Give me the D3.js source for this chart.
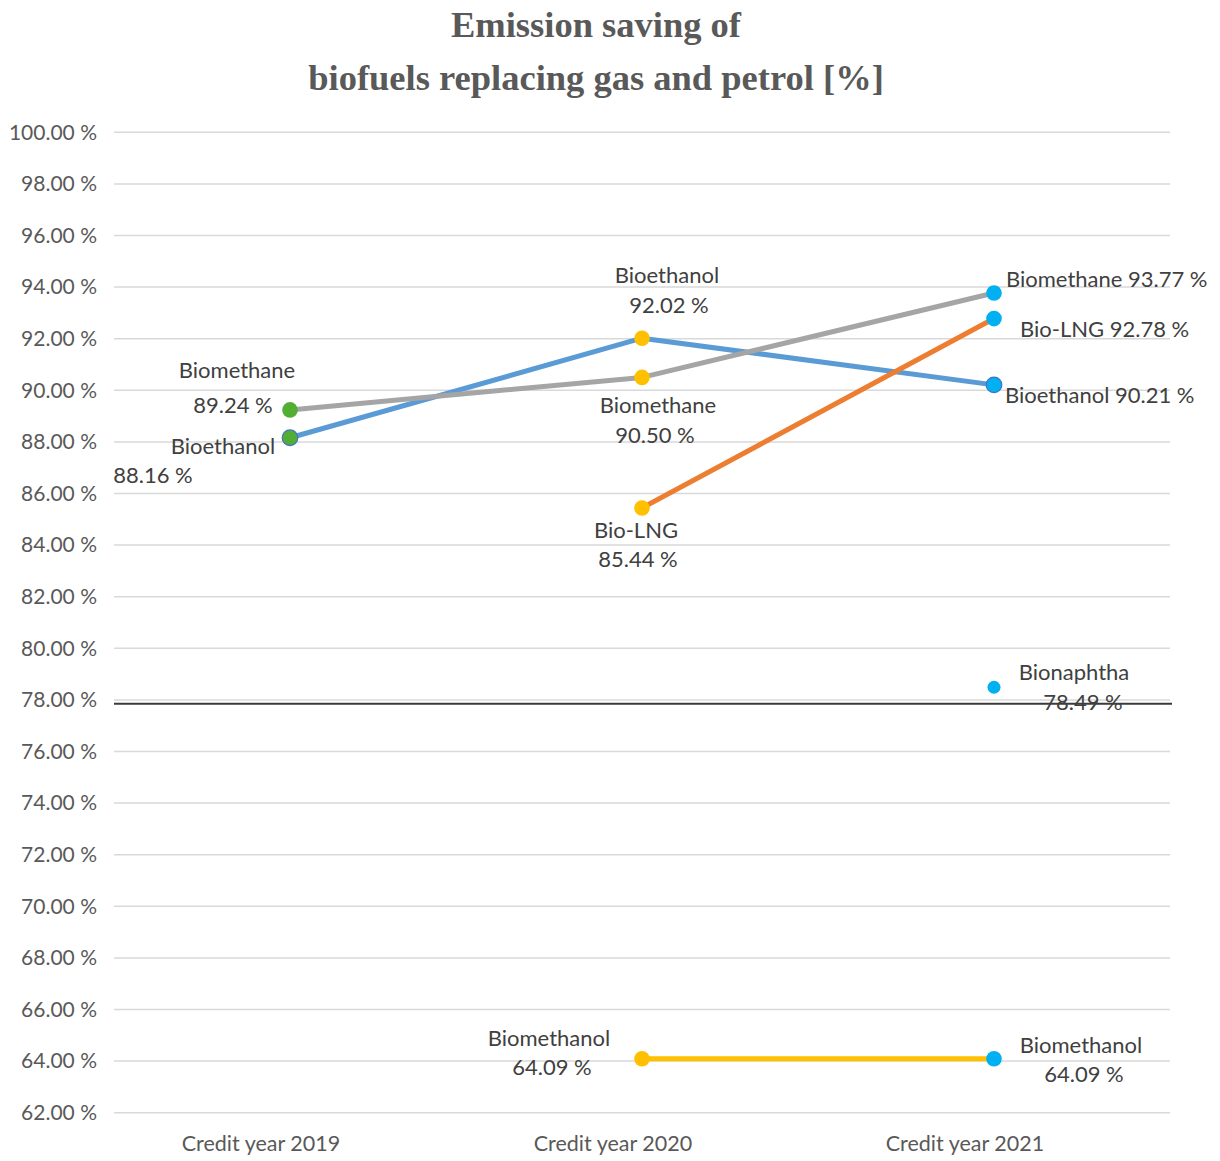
<!DOCTYPE html>
<html>
<head>
<meta charset="utf-8">
<script src="https://cdn.jsdelivr.net/npm/d3@7"></script>
<style>
  html, body { margin: 0; padding: 0; background: #fff; }
  svg { display: block; }
</style>
</head>
<body>
<svg id="chart" width="1220" height="1161"></svg>
<script>
// Categories and series values (percent emission saving)
const categories = ["Credit year 2019", "Credit year 2020", "Credit year 2021"];
const bioethanol  = [88.16, 92.02, 90.21];
const biomethane  = [89.24, 90.50, 93.77];
const bioLNG      = [null, 85.44, 92.78];
const biomethanol = [null, 64.09, 64.09];
const bionaphtha  = [null, null, 78.49];
const yTicks = d3.range(62, 100.001, 2);
const thresholdValue = 77.85;
const titleLines = ["Emission saving of", "biofuels replacing gas and petrol [%]"];

// Series definitions built from the arrays above
const series = [
  { name: "Bioethanol",  values: bioethanol,  color: "#5B9BD5", outline: true },
  { name: "Biomethane",  values: biomethane,  color: "#A5A5A5" },
  { name: "Bio-LNG",     values: bioLNG,      color: "#ED7D31" },
  { name: "Biomethanol", values: biomethanol, color: "#FFC000" },
  { name: "Bionaphtha",  values: bionaphtha,  color: null }
];

// Marker fill per credit year
const yearMarker = ["#52AE32", "#FFC000", "#00B0F0"];

// Data label placement (offsets from the point, per text line)
const labelLayout = {
  "Biomethane|0":  { anchor: "middle", lines: [[-53, -40], [-57, -5]] },
  "Bioethanol|0":  { anchor: "middle", lines: [[-67, 9], [-137, 38]] },
  "Bioethanol|1":  { anchor: "middle", lines: [[25, -63], [27, -33]] },
  "Biomethane|1":  { anchor: "middle", lines: [[16, 28], [13, 58]] },
  "Bio-LNG|1":     { anchor: "middle", lines: [[-6, 22], [-4, 51]] },
  "Biomethanol|1": { anchor: "middle", lines: [[-93, -20], [-90, 9]] },
  "Biomethane|2":  { anchor: "start",  single: [12, -14] },
  "Bio-LNG|2":     { anchor: "start",  single: [26, 11] },
  "Bioethanol|2":  { anchor: "start",  single: [11, 10] },
  "Bionaphtha|2":  { anchor: "middle", lines: [[80, -15], [89, 15]] },
  "Biomethanol|2": { anchor: "middle", lines: [[87, -13], [90, 16]] }
};

const svg = d3.select("#chart");
const plotLeft = 114, plotRight = 1170, plotTop = 132.3, plotBottom = 1112.7;

const x = d3.scaleBand().domain(categories).range([plotLeft, plotRight]);
const cx = c => x(c) + x.bandwidth() / 2;
const y = d3.scaleLinear().domain([62, 100]).range([plotBottom, plotTop]);

const fmt = v => d3.format(".2f")(v) + " %";
const labelFont = "Lato, 'Open Sans', sans-serif";

// Title
svg.append("g").selectAll("text").data(titleLines).join("text")
  .attr("x", 596).attr("y", (d, i) => 37 + i * 53)
  .attr("text-anchor", "middle")
  .attr("font-family", "'Liberation Serif', 'DejaVu Serif', serif")
  .attr("font-weight", "bold")
  .attr("font-size", 36.5)
  .attr("fill", "#595959")
  .text(d => d);

// Horizontal gridlines
svg.append("g").selectAll("line").data(yTicks).join("line")
  .attr("x1", plotLeft).attr("x2", plotRight)
  .attr("y1", d => y(d)).attr("y2", d => y(d))
  .attr("stroke", "#D9D9D9").attr("stroke-width", 1.5);

// Y axis tick labels
const yAxis = d3.axisLeft(y).tickValues(yTicks).tickSize(0).tickPadding(17).tickFormat(fmt);
const gy = svg.append("g").attr("transform", `translate(${plotLeft},0)`).call(yAxis);
gy.select(".domain").remove();
gy.selectAll("text")
  .attr("font-family", labelFont).attr("font-size", 21).attr("fill", "#595959");

// X axis category labels
const xAxis = d3.axisBottom(x).tickSize(0).tickPadding(0);
const gx = svg.append("g").attr("transform", `translate(0,${plotBottom})`).call(xAxis);
gx.select(".domain").remove();
gx.selectAll("text")
  .attr("font-family", labelFont).attr("font-size", 21.5).attr("fill", "#595959")
  .attr("dx", -29).attr("dy", 38);

// Threshold line
svg.append("line")
  .attr("x1", plotLeft).attr("x2", plotRight + 2)
  .attr("y1", y(thresholdValue)).attr("y2", y(thresholdValue))
  .attr("stroke", "#3A3A3A").attr("stroke-width", 2);

// Series lines
const line = d3.line()
  .defined(d => d.v != null)
  .x(d => cx(d.c)).y(d => y(d.v));

const seriesPoints = s => s.values.map((v, i) => ({ v, c: categories[i], i, s }));

svg.append("g").selectAll("path").data(series.filter(s => s.color)).join("path")
  .attr("d", s => line(seriesPoints(s)))
  .attr("fill", "none")
  .attr("stroke", s => s.color)
  .attr("stroke-width", 5)
  .attr("stroke-linejoin", "round")
  .attr("stroke-linecap", "round");

// Markers
const allPoints = series.flatMap(s => seriesPoints(s).filter(p => p.v != null));
svg.append("g").selectAll("circle").data(allPoints).join("circle")
  .attr("cx", d => cx(d.c)).attr("cy", d => y(d.v))
  .attr("r", d => d.s.name === "Bionaphtha" ? 6.5 : 7.8)
  .attr("fill", d => yearMarker[d.i])
  .attr("stroke", d => (d.s.outline && d.i !== 1) ? "#4472C4" : "none")
  .attr("stroke-width", 1.2);

// Data labels
const labels = svg.append("g")
  .attr("font-family", labelFont).attr("font-size", 22).attr("fill", "#404040");
allPoints.forEach(p => {
  const lay = labelLayout[p.s.name + "|" + p.i];
  if (!lay) return;
  const px = cx(p.c), py = y(p.v);
  if (lay.single) {
    labels.append("text")
      .attr("x", px + lay.single[0]).attr("y", py + lay.single[1])
      .attr("dy", "0.35em").attr("text-anchor", lay.anchor)
      .text(p.s.name + " " + fmt(p.v));
  } else {
    const texts = [p.s.name, fmt(p.v)];
    lay.lines.forEach((o, k) => {
      labels.append("text")
        .attr("x", px + o[0]).attr("y", py + o[1])
        .attr("dy", "0.35em").attr("text-anchor", lay.anchor)
        .text(texts[k]);
    });
  }
});
</script>
</body>
</html>
